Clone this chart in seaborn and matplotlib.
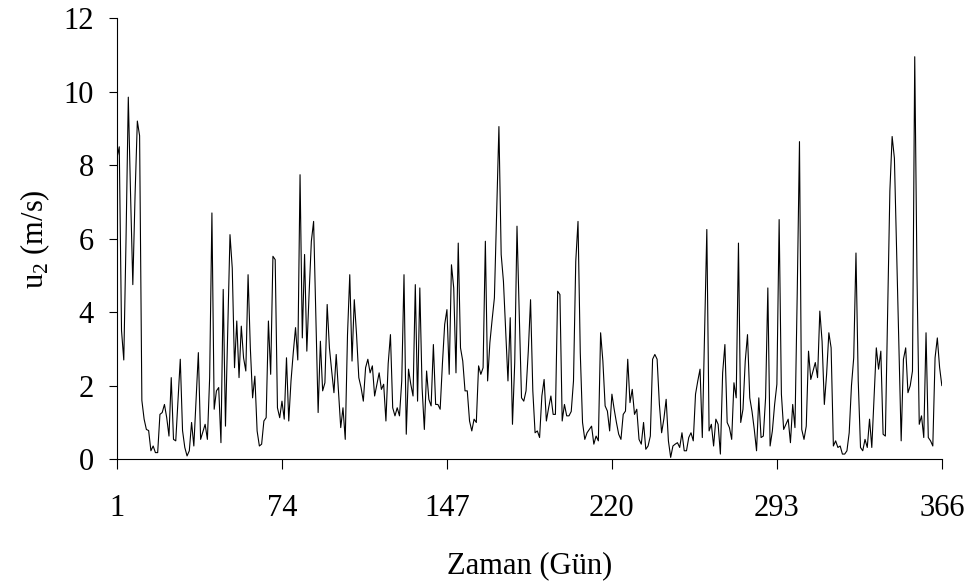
import numpy as np
import pandas as pd
import matplotlib
matplotlib.use("Agg")
import matplotlib.pyplot as plt
import seaborn as sns

# Günlük rüzgar hızı u2 (m/s)
gun_001_041 = [8.2, 8.5, 3.5, 2.7, 6.0, 9.85, 7.2, 4.75, 7.2, 9.2,
               8.8, 1.6, 1.09, 0.81, 0.78, 0.23, 0.36, 0.18, 0.18, 1.22,
               1.27, 1.49, 1.13, 0.63, 2.22, 0.54, 0.5, 1.6, 2.72, 0.78,
               0.32, 0.09, 0.23, 1.0, 0.36, 1.6, 2.9, 0.54, 0.75, 0.95,
               0.54]
gun_042_081 = [2.22, 6.7, 1.36, 1.86, 1.95, 0.45, 4.62, 0.9, 3.5, 6.11,
               5.2, 2.49, 3.76, 2.22, 3.62, 2.76, 2.4, 5.02, 3.03, 1.67,
               2.26, 0.77, 0.36, 0.41, 1.04, 1.13, 3.76, 2.31, 5.52, 5.43,
               1.4, 1.13, 1.58, 1.09, 2.76, 1.04, 2.13, 2.9, 3.58, 2.7]
gun_082_121 = [7.74, 3.3, 5.57, 2.94, 4.5, 5.93, 6.47, 3.89, 1.27, 3.21,
               1.86, 2.08, 4.21, 3.03, 2.4, 1.81, 2.85, 1.86, 0.86, 1.4,
               0.54, 3.39, 5.02, 2.67, 4.34, 3.39, 2.22, 1.95, 1.58, 2.49,
               2.72, 2.35, 2.54, 1.72, 2.04, 2.35, 1.9, 2.04, 1.04, 2.6]
gun_122_162 = [3.39, 1.4, 1.18, 1.4, 1.18, 2.13, 5.02, 0.68, 2.45, 2.04,
               1.72, 4.75, 1.58, 4.66, 1.95, 0.81, 2.4, 1.63, 1.45, 3.12,
               1.49, 1.49, 1.36, 2.6, 3.67, 4.07, 2.31, 5.29, 4.66, 2.35,
               5.88, 3.03, 2.67, 1.86, 1.86, 1.04, 0.77, 1.09, 1.0, 2.54,
               2.31]
gun_163_202 = [2.49, 5.93, 2.13, 3.17, 3.8, 4.39, 6.7, 9.05, 5.57, 4.84,
               3.5, 2.13, 3.85, 0.95, 2.63, 6.34, 3.94, 1.67, 1.58, 1.86,
               2.94, 4.34, 1.86, 0.72, 0.77, 0.59, 1.72, 2.17, 1.04, 1.4,
               1.72, 1.22, 1.22, 4.57, 4.48, 1.04, 1.49, 1.18, 1.18, 1.3]
gun_203_242 = [2.13, 5.38, 6.47, 2.9, 1.0, 0.54, 0.72, 0.81, 0.9, 0.41,
               0.63, 0.5, 3.44, 2.67, 1.45, 1.31, 0.77, 1.77, 1.36, 1.0,
               0.68, 0.54, 1.22, 1.31, 2.72, 1.54, 1.9, 1.22, 1.36, 0.54,
               0.41, 1.0, 0.27, 0.36, 0.63, 2.72, 2.85, 2.72, 1.5, 0.72]
gun_243_282 = [1.1, 1.63, 0.5, 0.05, 0.36, 0.41, 0.45, 0.32, 0.72, 0.23,
               0.23, 0.59, 0.72, 0.5, 1.77, 2.13, 2.45, 0.59, 3.4, 6.25,
               0.77, 0.95, 0.36, 1.09, 0.95, 0.14, 2.35, 3.12, 1.0, 0.86,
               0.54, 2.08, 1.67, 5.88, 1.0, 1.36, 2.67, 3.39, 1.67, 1.3]
gun_283_322 = [0.81, 0.23, 1.67, 0.59, 0.63, 1.67, 4.66, 0.36, 0.77, 1.49,
               2.04, 6.52, 1.77, 0.81, 0.95, 1.09, 0.45, 1.49, 0.86, 4.5,
               8.64, 0.81, 0.54, 0.9, 2.94, 2.17, 2.4, 2.63, 2.22, 4.03,
               3.21, 1.49, 2.31, 3.44, 3.03, 0.36, 0.5, 0.32, 0.36, 0.14]
gun_323_366 = [0.14, 0.23, 0.72, 2.0, 2.76, 5.61, 2.13, 0.32, 0.23, 0.54,
               0.32, 1.09, 0.32, 1.67, 3.03, 2.45, 2.94, 0.68, 0.63, 4.0,
               7.3, 8.78, 8.19, 5.6, 3.0, 0.5, 2.72, 3.03, 1.81, 2.0,
               2.4, 10.95, 5.0, 0.95, 1.18, 0.59, 3.44, 0.59, 0.5, 0.36,
               2.76, 3.3, 2.5, 2.0]

x_ticks = [1, 74, 147, 220, 293, 366]
y_ticks = [0, 2, 4, 6, 8, 10, 12]

u2 = (gun_001_041 + gun_042_081 + gun_082_121 + gun_122_162 + gun_163_202
      + gun_203_242 + gun_243_282 + gun_283_322 + gun_323_366)
df = pd.DataFrame({"gun": np.arange(1, len(u2) + 1), "u2": u2})

sns.set_theme(style="white")
plt.rcParams["font.family"] = ["Liberation Serif", "DejaVu Serif"]
plt.rcParams["mathtext.fontset"] = "custom"
plt.rcParams["mathtext.rm"] = "Liberation Serif"

fig = plt.figure(figsize=(9.75, 5.85), dpi=100)
ax = fig.add_axes([0.12, 0.215, 0.846, 0.754])

sns.lineplot(data=df, x="gun", y="u2", color="black", linewidth=0.8, ax=ax)

ax.set_xlim(1, 366)
ax.set_ylim(0, 12)
ax.set_xticks(x_ticks)
ax.set_yticks(y_ticks)
ax.set_xticklabels([str(t) for t in x_ticks])
ax.set_yticklabels([str(t) for t in y_ticks])

for side in ["top", "right"]:
    ax.spines[side].set_visible(False)
for side in ["left", "bottom"]:
    ax.spines[side].set_color("black")
    ax.spines[side].set_linewidth(0.8)

ax.tick_params(axis="x", direction="out", length=7, width=0.8, color="black",
               pad=18, labelsize=22, labelcolor="black", bottom=True)
ax.tick_params(axis="y", direction="out", length=5.5, width=0.8, color="black",
               pad=11, labelsize=22, labelcolor="black", left=True)

ax.set_xlabel("Zaman (Gün)", fontsize=22, color="black", labelpad=20)
ax.set_ylabel(r"u$_\mathregular{2}$ (m/s)", fontsize=22, color="black", labelpad=8)
ax.grid(False)

fig.savefig("out.png", dpi=100)
